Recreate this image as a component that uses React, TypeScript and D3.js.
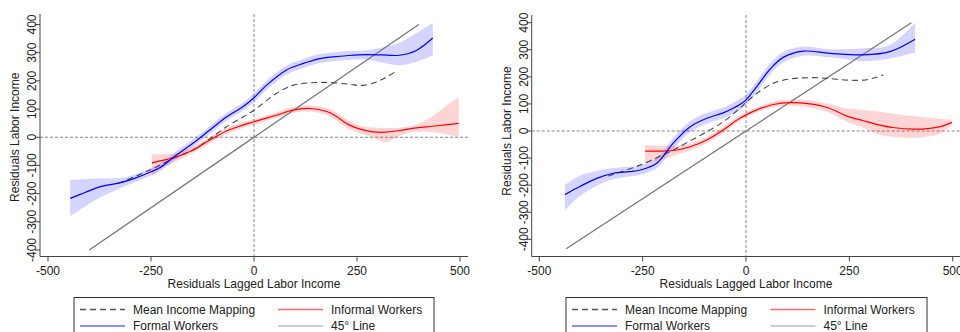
import React from 'react';
import * as d3 from 'd3';

// x ticks / y ticks shared by both panels
const xTicks = [-500, -250, 0, 250, 500];
const yTicks = [-400, -300, -200, -100, 0, 100, 200, 300, 400];

// ---- left panel ----
const lFormalX = [-446, -410, -375, -326, -290, -254, -229, -189, -149, -108, -67, -27, 0, 30, 78, 118, 160, 191, 230, 272, 310, 353, 394, 434];
const lFormalY = [-217, -196, -176, -162, -146, -125, -108, -64, -22, 25, 72, 108, 140, 184, 238, 261, 279, 285, 290, 293, 292, 291, 308, 352];
const lFormalHi = [-152, -148, -146, -145, -133, -112, -95, -50, -8, 39, 86, 122, 156, 200, 254, 277, 295, 301, 306, 308, 318, 335, 369, 405];
const lFormalLo = [-280, -246, -215, -182, -160, -138, -121, -78, -36, 11, 58, 94, 124, 168, 222, 245, 263, 270, 274, 276, 265, 255, 268, 290];

const lInformalX = [-248, -229, -189, -149, -108, -67, -27, 0, 54, 94, 135, 183, 232, 260, 289, 320, 353, 394, 434, 470, 497];
const lInformalY = [-91, -84, -70, -46, -11, 22, 43, 55, 78, 96, 102, 88, 43, 28, 19, 18, 24, 33, 39, 45, 49];
const lInformalHi = [-60, -60, -58, -35, 0, 32, 53, 64, 88, 106, 113, 100, 58, 40, 35, 33, 34, 45, 75, 115, 143];
const lInformalLo = [-138, -115, -85, -57, -22, 12, 33, 44, 68, 86, 91, 74, 28, 12, 0, -18, 5, 20, 18, 10, 1];

const lMeanX = [-330, -290, -254, -229, -189, -149, -108, -67, -27, 0, 54, 94, 135, 183, 232, 264, 297, 320, 346];
const lMeanY = [-164, -140, -117, -99, -70, -46, -6, 37, 72, 96, 155, 184, 193, 194, 188, 184, 196, 212, 235];

const l45X = [-400, 400];

// ---- right panel ----
const rFormalX = [-438, -402, -361, -321, -281, -256, -216, -176, -135, -95, -55, -30, -15, 0, 26, 58, 90, 139, 203, 284, 348, 409];
const rFormalY = [-235, -205, -175, -156, -150, -144, -119, -45, 16, 47, 67, 85, 98, 115, 164, 228, 272, 295, 287, 281, 293, 339];
const rFormalHi = [-199, -165, -148, -137, -132, -127, -100, -25, 36, 67, 87, 105, 118, 135, 184, 248, 292, 312, 302, 306, 318, 400];
const rFormalLo = [-292, -240, -202, -178, -168, -162, -138, -65, -4, 27, 47, 65, 78, 95, 144, 208, 252, 278, 272, 258, 268, 290];

const rInformalX = [-244, -176, -135, -95, -55, -15, 26, 66, 106, 155, 200, 244, 284, 324, 360, 404, 440, 470, 498];
const rInformalY = [-74, -72, -58, -33, 4, 47, 78, 98, 105, 100, 85, 55, 38, 22, 12, 7, 9, 16, 32];
const rInformalHi = [-52, -55, -45, -22, 15, 57, 88, 108, 116, 113, 100, 84, 78, 71, 63, 55, 50, 45, 41];
const rInformalLo = [-120, -92, -72, -45, -7, 37, 68, 88, 94, 86, 68, 34, 12, -15, -22, -25, -20, -9, 24];

const rMeanX = [-333, -256, -200, -176, -143, -95, -55, -15, 0, 26, 66, 106, 155, 200, 244, 284, 310, 332];
const rMeanY = [-166, -126, -87, -70, -43, -3, 34, 84, 105, 139, 176, 192, 197, 194, 188, 188, 196, 207];

const r45X = [-435, 400];

const legendItems = ['Mean Income Mapping', 'Informal Workers', 'Formal Workers', '45\u00b0 Line'];

const FONT = '"Liberation Sans", Arial, sans-serif';
const TEXT = '#222';
const AXIS = '#444';

interface Series {
  x: number[];
  y: number[];
  hi?: number[];
  lo?: number[];
}

interface PanelProps {
  xRange: [number, number];
  yRange: [number, number]; // pixel for -400, pixel for 400
  axisX: number;
  axisY: number;
  plotTop: number;
  plotRight: number;
  legendX: [number, number];
  formal: Series;
  informal: Series;
  mean: Series;
  line45: number[];
}

const Panel: React.FC<PanelProps> = ({
  xRange, yRange, axisX, axisY, plotTop, plotRight, legendX, formal, informal, mean, line45
}) => {
  const x = d3.scaleLinear().domain([-500, 500]).range(xRange);
  const y = d3.scaleLinear().domain([-400, 400]).range(yRange);

  const line = (s: Series) =>
    d3.line<number>()
      .x((_, i) => x(s.x[i]))
      .y((_, i) => y(s.y[i]))
      .curve(d3.curveCatmullRom.alpha(0.5))(s.y) || '';

  const band = (s: Series) =>
    d3.area<number>()
      .x((_, i) => x(s.x[i]))
      .y0((_, i) => y(s.lo![i]))
      .y1((_, i) => y(s.hi![i]))
      .curve(d3.curveCatmullRom.alpha(0.5))(s.y) || '';

  const yMid = (yRange[0] + yRange[1]) / 2;
  const legTop = 297.5;
  const lx0 = legendX[0];
  const colW = (legendX[1] - legendX[0]) / 2;
  const legColors = ['#555', '#ff6a6a', '#6a6aff', '#bdbdbd'];

  return (
    <g>
      {/* reference lines */}
      <line x1={x(0)} x2={x(0)} y1={plotTop} y2={axisY} stroke="#666" strokeWidth={0.8} strokeDasharray="3,2" />
      <line x1={axisX} x2={plotRight} y1={y(0)} y2={y(0)} stroke="#666" strokeWidth={0.8} strokeDasharray="3,2" />

      {/* confidence bands */}
      <path d={band(formal)} fill="#0000ff" fillOpacity={0.17} />
      <path d={band(informal)} fill="#ff0000" fillOpacity={0.17} />

      {/* 45 degree line */}
      <line x1={x(line45[0])} x2={x(line45[1])} y1={y(line45[0])} y2={y(line45[1])} stroke="#777" strokeWidth={1.3} />

      <path d={line(mean)} fill="none" stroke="#444" strokeWidth={1.1} strokeDasharray="6,4" />
      <path d={line(informal)} fill="none" stroke="#ff0000" strokeWidth={1.2} />
      <path d={line(formal)} fill="none" stroke="#0000ff" strokeWidth={1.2} />

      {/* axes */}
      <line x1={axisX} x2={axisX} y1={plotTop} y2={axisY} stroke={AXIS} strokeWidth={1} />
      <line x1={axisX} x2={plotRight} y1={axisY} y2={axisY} stroke={AXIS} strokeWidth={1} />
      {yTicks.map(t => (
        <g key={`yt${t}`}>
          <line x1={axisX - 5} x2={axisX} y1={y(t)} y2={y(t)} stroke={AXIS} />
          <text
            transform={`translate(${axisX - 4},${y(t)}) rotate(-90)`}
            textAnchor="middle"
            fontSize={12}
            fontFamily={FONT}
            fill={TEXT}
          >{t}</text>
        </g>
      ))}
      {xTicks.map(t => (
        <g key={`xt${t}`}>
          <line x1={x(t)} x2={x(t)} y1={axisY} y2={axisY + 5} stroke={AXIS} />
          <text x={x(t)} y={axisY + 18} textAnchor="middle" fontSize={12} fontFamily={FONT} fill={TEXT}>{t}</text>
        </g>
      ))}
      <text
        transform={`translate(${axisX - 21},${yMid}) rotate(-90)`}
        textAnchor="middle"
        fontSize={12}
        fontFamily={FONT}
        fill={TEXT}
      >Residuals Labor Income</text>
      <text x={x(0)} y={axisY + 31} textAnchor="middle" fontSize={12} fontFamily={FONT} fill={TEXT}>
        Residuals Lagged Labor Income
      </text>

      {/* legend */}
      <rect x={lx0} y={legTop} width={legendX[1] - legendX[0]} height={60} fill="#fff" stroke="#333" strokeWidth={1} />
      {legendItems.map((name, i) => {
        const col = i % 2;
        const row = Math.floor(i / 2);
        const sx = lx0 + 6 + col * (colW + 18);
        const cy = legTop + 12 + row * 16.5;
        return (
          <g key={name}>
            <line
              x1={sx} x2={sx + 45} y1={cy} y2={cy}
              stroke={legColors[i]}
              strokeWidth={1.3}
              strokeDasharray={i === 0 ? '6,4' : undefined}
            />
            <text x={sx + 53} y={cy + 4.3} fontSize={12} fontFamily={FONT} fill={TEXT}>{name}</text>
          </g>
        );
      })}
    </g>
  );
};

const App: React.FC = () => (
  <svg
    width={960}
    height={332}
    style={{ position: 'absolute', left: 0, top: 0, background: '#fff' }}
  >
    <Panel
      xRange={[48, 460]}
      yRange={[250, 24.5]}
      axisX={40}
      axisY={256.5}
      plotTop={14}
      plotRight={468}
      legendX={[74, 434]}
      formal={{ x: lFormalX, y: lFormalY, hi: lFormalHi, lo: lFormalLo }}
      informal={{ x: lInformalX, y: lInformalY, hi: lInformalHi, lo: lInformalLo }}
      mean={{ x: lMeanX, y: lMeanY }}
      line45={l45X}
    />
    <Panel
      xRange={[539.3, 952.7]}
      yRange={[239.3, 22.7]}
      axisX={531.7}
      axisY={256.5}
      plotTop={15}
      plotRight={960}
      legendX={[566, 927]}
      formal={{ x: rFormalX, y: rFormalY, hi: rFormalHi, lo: rFormalLo }}
      informal={{ x: rInformalX, y: rInformalY, hi: rInformalHi, lo: rInformalLo }}
      mean={{ x: rMeanX, y: rMeanY }}
      line45={r45X}
    />
  </svg>
);

export default App;
